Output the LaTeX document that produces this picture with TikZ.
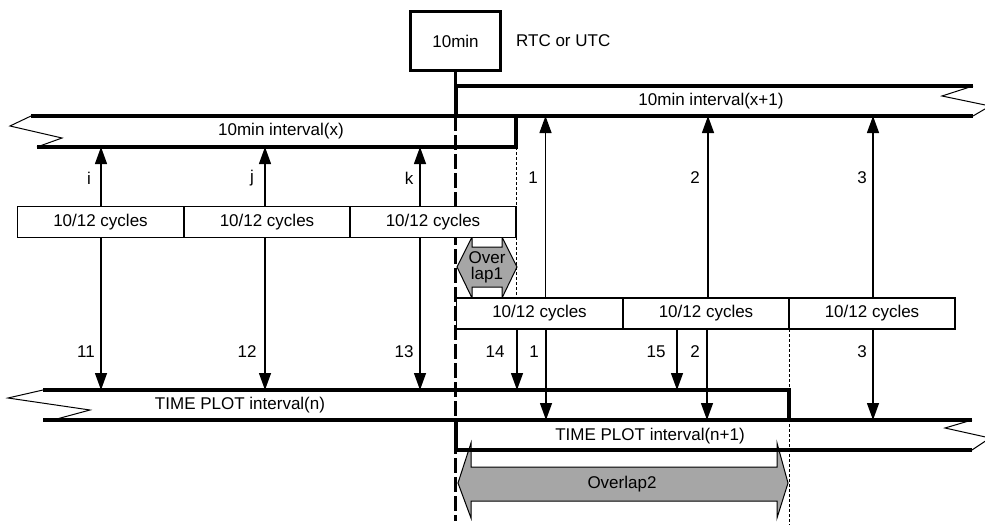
\documentclass[tikz,border=0pt]{standalone}
\usepackage{fontspec}
\setmainfont{Liberation Sans}
\usetikzlibrary{arrows.meta}
\begin{document}
\begin{tikzpicture}[x=1pt,y=-1pt,
  every node/.style={font=\fontsize{17}{18}\selectfont, inner sep=0pt},
  band/.style={line width=3.6pt},
  zig/.style={line width=1pt, line join=miter},
  arr/.style={line width=1.3pt, -{Triangle[length=17pt,width=12pt]}},
  cyc/.style={draw, line width=1.3pt, fill=white, minimum width=166pt, minimum height=31pt},
  thindash/.style={line width=0.8pt, dash pattern=on 3pt off 2pt},
  olap/.style={fill=black!35, draw, line width=1pt, line join=miter},
  lbl/.style={}]
\useasboundingbox (0,0) rectangle (985,525);
% level coordinates
\coordinate (ytop) at (0,86);
\coordinate (ymid) at (0,116);
\coordinate (ybot) at (0,147);
\coordinate (tn) at (0,390);
\coordinate (tm) at (0,420);
\coordinate (tb) at (0,450);
% overlap shapes
\draw[olap] (457,267) -- (472,237) -- (472,247) -- (502,247) -- (502,237) -- (517,267)
  -- (502,298) -- (502,287) -- (472,287) -- (472,298) -- cycle;
\node[align=center, font=\fontsize{17}{16}\selectfont] (ov1) at (487,267) {Over\\lap1};
\draw[olap] (458,483) -- (471,443) -- (471,467) -- (777,467) -- (777,443) -- (788,483)
  -- (777,518) -- (777,501) -- (471,501) -- (471,518) -- cycle;
\node (ov2) at (622,484) {Overlap2};
% 10min box
\node[draw, line width=3.6pt, minimum width=90pt, minimum height=59pt] (box) at (455.5,41) {10min};
\node[anchor=west] (rtc) at (516,41) {RTC or UTC};
% dashed vertical
\draw[line width=3.6pt] (box.south) -- (box.south |- ymid);
\draw[line width=3.6pt, dash pattern=on 15pt off 4pt] (box.south |- ymid) -- ++(0,405);
% thin dashed lines
\draw[thindash] (516,147) -- (516,298);
\draw[thindash] (789,329) -- (789,525);
% band x+1
\draw[band] (456,86) -- (973,86);
\draw[band] (456,86) -- (456,116);
\draw[band] (31,116) -- (973,116);
\draw[zig] (973,86) -- (942,96) -- (990,106) -- (973,116);
\node (bxp1) at (711,101) {10min interval(x+1)};
% band x
\draw[band] (37,147) -- (516,147);
\draw[band] (516,114.2) -- (516,148.8);
\draw[zig] (31,116) -- (10,126) -- (62,138) -- (37,147);
\node (bx) at (281,131) {10min interval(x)};
% time plot n
\draw[band] (43,390) -- (789,390);
\draw[band] (789,388.2) -- (789,421.8);
\draw[band] (43,420) -- (972,420);
\draw[zig] (43,390) -- (8,398) -- (90,410) -- (53,420);
\node (tpn) at (240,405) {TIME PLOT interval(n)};
% time plot n+1
\draw[band] (456,420) -- (456,450);
\draw[band] (454.2,450) -- (972,450);
\draw[zig] (972,420) -- (945,428) -- (990,438) -- (972,450);
\node (tpn1) at (650,436) {TIME PLOT interval(n+1)};
% cycle boxes
\node[cyc] (c1) at (100.5,222) {10/12 cycles};
\node[cyc] (c2) at (267,222) {10/12 cycles};
\node[cyc] (c3) at (433,222) {10/12 cycles};
\node[cyc] (d1) at (539.5,313.5) {10/12 cycles};
\node[cyc] (d2) at (706,313.5) {10/12 cycles};
\node[cyc] (d3) at (872,313.5) {10/12 cycles};
% arrows upper i j k
\draw[arr] ([xshift=0.5pt]c1.north) -- ([xshift=0.5pt]c1.north |- ybot);
\draw[arr] ([xshift=-2pt]c2.north) -- ([xshift=-2pt]c2.north |- ybot);
\draw[arr] ([xshift=-13pt]c3.north) -- ([xshift=-13pt]c3.north |- ybot);
\node (li) at (89,178) {i};
\node (lj) at (252,178) {j};
\node (lk) at (409,178) {k};
% arrows 11 12 13
\draw[arr] ([xshift=0.5pt]c1.south) -- ([xshift=0.5pt]c1.south |- tn);
\draw[arr] ([xshift=-2pt]c2.south) -- ([xshift=-2pt]c2.south |- tn);
\draw[arr] ([xshift=-13pt]c3.south) -- ([xshift=-13pt]c3.south |- tn);
\node (l11) at (86,352) {11};
\node (l12) at (247,352) {12};
\node (l13) at (404,352) {13};
% arrows 1 2 3 up
\draw[arr] ([xshift=6pt]d1.north) -- ([xshift=6pt]d1.north |- ymid);
\draw[arr] ([xshift=2pt]d2.north) -- ([xshift=2pt]d2.north |- ymid);
\draw[arr] ([xshift=1pt]d3.north) -- ([xshift=1pt]d3.north |- ymid);
\node (l1) at (533,178) {1};
\node (l2) at (695,178) {2};
\node (l3) at (862,178) {3};
% lower arrows
\draw[arr] ([xshift=-22.5pt]d1.south) -- ([xshift=-22.5pt]d1.south |- tn);
\draw[arr] ([xshift=6.5pt]d1.south) -- ([xshift=6.5pt]d1.south |- tm);
\draw[arr] ([xshift=-29pt]d2.south) -- ([xshift=-29pt]d2.south |- tn);
\draw[arr] ([xshift=1pt]d2.south) -- ([xshift=1pt]d2.south |- tm);
\draw[arr] ([xshift=1pt]d3.south) -- ([xshift=1pt]d3.south |- tm);
\node (l14) at (495,352) {14};
\node (l1b) at (534,352) {1};
\node (l15) at (656,352) {15};
\node (l2b) at (695,352) {2};
\node (l3b) at (862,352) {3};
\end{tikzpicture}
\end{document}
